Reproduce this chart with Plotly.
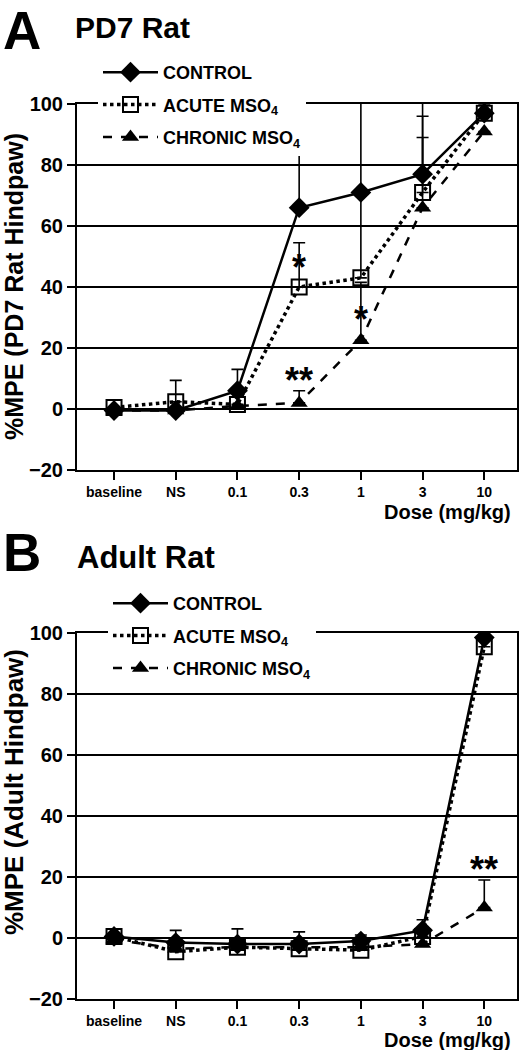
import plotly.graph_objects as go

# ---------------- data ----------------
doses = ["baseline", "NS", "0.1", "0.3", "1", "3", "10"]

pd7_control = [-0.5, -0.5, 6, 66, 71, 77, 97]
pd7_control_err = [0, 0, 7, 25, 30, 28, 5]
pd7_acute = [0.5, 2.4, 1.5, 40, 43, 71, 97]
pd7_acute_err = [0, 7, 0, 14.5, 27, 25, 3]
pd7_chronic = [-0.5, -0.5, 1, 2, 22.5, 66, 91]
pd7_chronic_err = [0, 0, 0, 4, 19, 23, 0]

adult_control = [0.5, -1.5, -2, -2, -1, 2.5, 98.5]
adult_control_err = [0, 4, 5, 4, 2, 3.5, 8]
adult_acute = [0.5, -4.5, -3, -3.5, -4, 0.5, 95.5]
adult_acute_err = [0, 0, 0, 0, 0, 0, 0]
adult_chronic = [-0.5, -3.5, -3, -3, -3, -2, 10]
adult_chronic_err = [0, 0, 0, 0, 0, 0, 9]

# significance marks: (dose, value, text)
pd7_marks = [("0.3", 49, "*"), ("1", 32, "*"), ("0.3", 12, "**")]
adult_marks = [("10", 25, "**")]

series_names = ["CONTROL", "ACUTE MSO<sub>4</sub>", "CHRONIC MSO<sub>4</sub>"]
y_ticks = [-20, 0, 20, 40, 60, 80, 100]

# ---------------- style ----------------
FAM = "Liberation Sans, Arial, sans-serif"


def bfont(size):
    return dict(family=FAM, size=size, color="black", weight="bold")


styles = [
    dict(line=dict(color="black", width=2.5, dash="solid"),
         marker=dict(symbol="diamond", size=16, color="black")),
    dict(line=dict(color="black", width=3.5, dash="dot"),
         marker=dict(symbol="square-open", size=15, color="black",
                     line=dict(width=2, color="black"))),
    dict(line=dict(color="black", width=2.5, dash="dash"),
         marker=dict(symbol="triangle-up", size=15, color="black")),
]

fig = go.Figure()

panels = [
    ("x", "y", "legend", [pd7_control, pd7_acute, pd7_chronic],
     [pd7_control_err, pd7_acute_err, pd7_chronic_err]),
    ("x2", "y2", "legend2", [adult_control, adult_acute, adult_chronic],
     [adult_control_err, adult_acute_err, adult_chronic_err]),
]
for xa, ya, lg, ys, errs in panels:
    for i, (name, y, e) in enumerate(zip(series_names, ys, errs)):
        fig.add_trace(go.Scatter(
            x=doses, y=y, name=name, mode="lines+markers",
            xaxis=xa, yaxis=ya, legend=lg, legendgroup=f"{lg}{i}",
            line=styles[i]["line"], marker=styles[i]["marker"],
            error_y=dict(type="data", symmetric=False, array=e,
                         arrayminus=[0] * len(e), color="black",
                         thickness=1.6, width=6),
        ))

for xa, ya, marks in [("x", "y", pd7_marks), ("x2", "y2", adult_marks)]:
    for d, v, t in marks:
        fig.add_annotation(x=doses.index(d), y=v, xref=xa, yref=ya, text=t,
                           showarrow=False, font=bfont(36), yshift=-8)

W, H = 521, 1050
xdom = [77 / W, 517 / W]
axis_common = dict(showline=True, linecolor="black", linewidth=2, mirror=True,
                   ticks="outside", tickcolor="black", tickwidth=2, ticklen=8,
                   automargin=False)
xaxis_common = dict(axis_common, type="category", range=[-0.6, 6.53],
                    showgrid=False, zeroline=False, tickfont=bfont(14))
yaxis_common = dict(axis_common, range=[-20, 100], tickvals=y_ticks,
                    showgrid=True, gridcolor="black", gridwidth=2,
                    zeroline=False, tickfont=bfont(20))

legend_common = dict(bgcolor="white", borderwidth=0, xanchor="left",
                     yanchor="top", tracegroupgap=6, itemwidth=55,
                     font=bfont(18))

fig.update_layout(
    width=W, height=H, margin=dict(l=0, r=0, t=0, b=0, autoexpand=False),
    paper_bgcolor="white", plot_bgcolor="white", showlegend=True,
    xaxis=dict(xaxis_common, domain=xdom, anchor="y"),
    yaxis=dict(yaxis_common, domain=[1 - 470 / H, 1 - 104 / H], anchor="x"),
    xaxis2=dict(xaxis_common, domain=xdom, anchor="y2"),
    yaxis2=dict(yaxis_common, domain=[1 - 999 / H, 1 - 633 / H], anchor="x2"),
    legend=dict(legend_common, x=98 / W, y=1 - 54 / H),
    legend2=dict(legend_common, x=108 / W, y=1 - 585 / H),
)

texts = [
    ("A", 1, 31, 53, "left"),
    ("PD7 Rat", 73, 28, 30, "left"),
    ("B", 1, 552, 53, "left"),
    ("Adult Rat", 75, 557, 31, "left"),
    ("Dose (mg/kg)", 513, 512, 20, "right"),
    ("Dose (mg/kg)", 513, 1040, 20, "right"),
]
for t, px, py, sz, anc in texts:
    fig.add_annotation(x=px / W, y=1 - py / H, xref="paper", yref="paper",
                       text=t, showarrow=False, xanchor=anc, yanchor="middle",
                       font=bfont(sz))

for t, py, sz in [("%MPE (PD7 Rat Hindpaw)", 287, 25),
                  ("%MPE (Adult Hindpaw)", 792, 26)]:
    fig.add_annotation(x=14 / W, y=1 - py / H, xref="paper", yref="paper",
                       text=t, showarrow=False, textangle=-90,
                       xanchor="center", yanchor="middle", font=bfont(sz))

fig.write_html("out.html", config={"displayModeBar": False},
               post_script="document.body.style.margin='0px';")
